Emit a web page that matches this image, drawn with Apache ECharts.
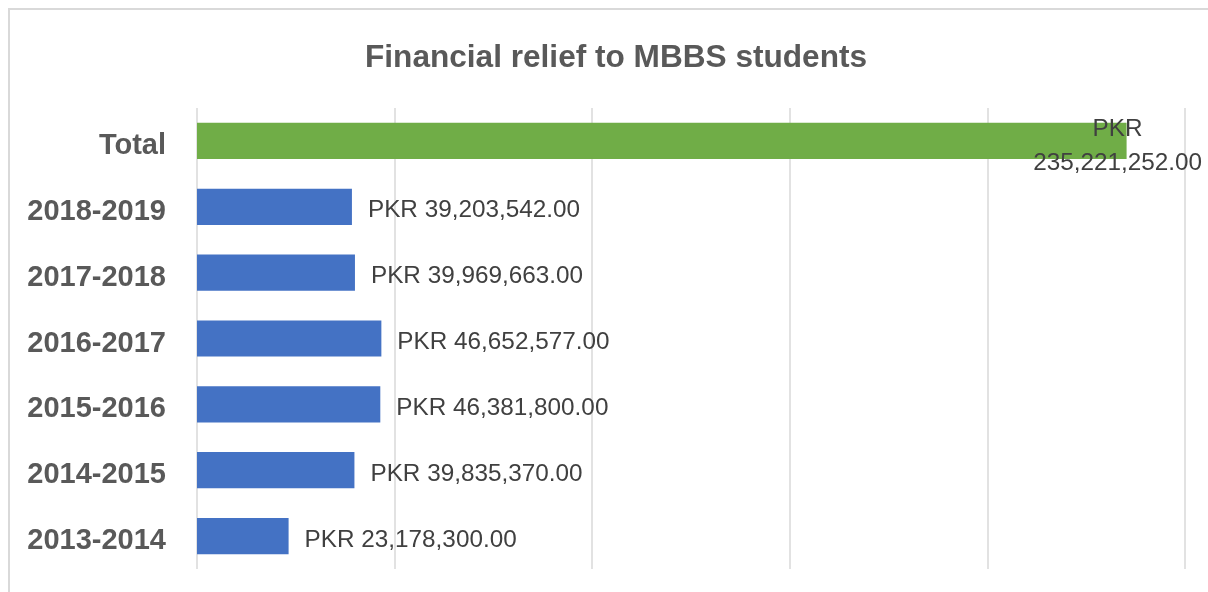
<!DOCTYPE html>
<html>
<head>
<meta charset="utf-8">
<title>Financial relief to MBBS students</title>
<script src="https://cdn.jsdelivr.net/npm/echarts@6/dist/echarts.min.js"></script>
<style>
    html, body { margin: 0; padding: 0; background: #fff; }
    #chart-container { width: 1208px; height: 592px; }
</style>
</head>
<body>
<div id="chart-container"></div>
<script>

const years = ['2013-2014', '2014-2015', '2015-2016', '2016-2017', '2017-2018', '2018-2019', 'Total'];

const amounts = [23178300, 39835370, 46381800, 46652577, 39969663, 39203542, 235221252];

const axisMax = 250000000;
const axisStep = 50000000;

const money = (v) => v.toLocaleString('en-US', { minimumFractionDigits: 2, maximumFractionDigits: 2 });

const renderBarChart = () => {

    const barChart = echarts.init(document.getElementById('chart-container'));

    const series = amounts.map((value, i) => {
        const isTotal = years[i] === 'Total';
        return {
            value: value,
            itemStyle: {
                color: isTotal ? '#70AD47' : '#4472C4',
            },
            label: isTotal ? {
                position: 'right',
                distance: 0,
                align: 'center',
                offset: [-9, 5],
                lineHeight: 34,
                formatter: (p) => `PKR\n${money(p.value)}`,
            } : {},
        };
    });

    barChart.setOption({
        animation: false,
        title: {
            text: 'Financial relief to MBBS students',
            left: 360,
            top: 37,
            textStyle: {
                color: '#595959',
                fontFamily: 'Liberation Sans',
                fontWeight: 'bold',
                fontSize: 31.6,
            },
        },
        graphic: [
            {
                type: 'rect',
                shape: { x: 9, y: 9, width: 1400, height: 800 },
                style: { fill: 'none', stroke: '#d9d9d9', lineWidth: 2 },
                silent: true,
            },
        ],
        grid: {
            left: 197,
            right: 23,
            top: 108,
            bottom: 23,
        },
        xAxis: {
            type: 'value',
            min: 0,
            max: axisMax,
            interval: axisStep,
            axisLabel: { show: false },
            axisLine: { show: false },
            axisTick: { show: false },
            splitLine: {
                lineStyle: { color: '#d9d9d9', width: 1.5 },
            },
        },
        yAxis: {
            type: 'category',
            data: years,
            axisLine: { show: false },
            axisTick: { show: false },
            axisLabel: {
                margin: 31,
                formatter: '{y|{value}}',
                rich: {
                    y: {
                        padding: [10, 0, 0, 0],
                        color: '#595959',
                        fontFamily: 'Liberation Sans',
                        fontWeight: 'bold',
                        fontSize: 29,
                    },
                },
            },
        },
        series: [
            {
                type: 'bar',
                data: series,
                barWidth: '55%',
                label: {
                    show: true,
                    position: 'right',
                    distance: 16,
                    offset: [0, 4],
                    color: '#404040',
                    fontFamily: '"Liberation Sans Narrow", "Liberation Sans", sans-serif',
                    fontSize: 24.3,
                    formatter: (p) => `PKR ${money(p.value)}`,
                },
            },
        ],
    });
};

renderBarChart();

</script>
</body>
</html>
